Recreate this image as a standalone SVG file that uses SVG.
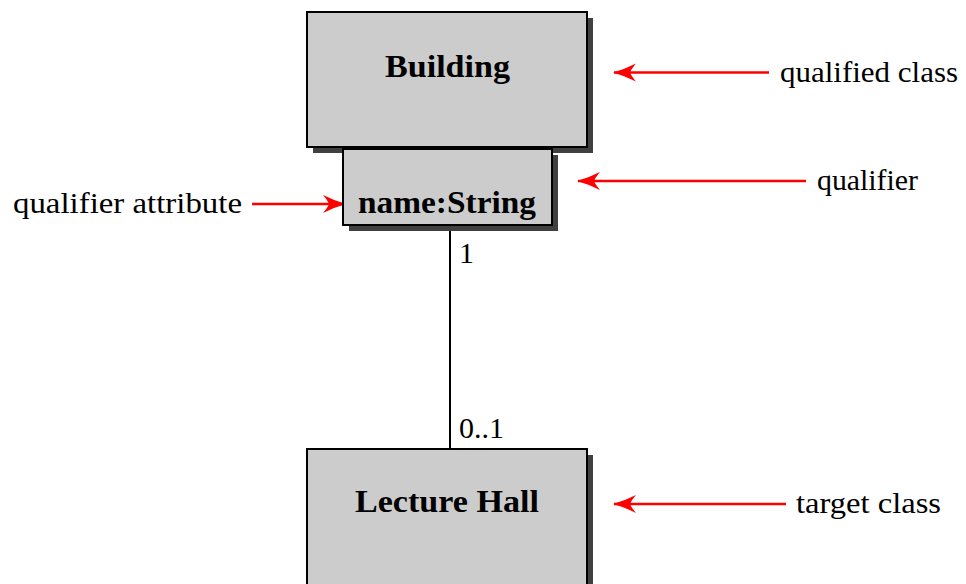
<svg xmlns="http://www.w3.org/2000/svg" width="966" height="584" viewBox="0 0 966 584">
  <style>
    .shadow { fill: #404040; }
    .box { fill: #cccccc; stroke: #000000; stroke-width: 2; }
    .title { font-family: "Liberation Serif", "DejaVu Serif", serif; font-weight: bold; font-size: 31px; fill: #000000; }
    .label { font-family: "Liberation Serif", "DejaVu Serif", serif; font-size: 30px; fill: #000000; }
    .assoc { stroke: #000000; stroke-width: 2; fill: none; }
    .pointer { stroke: #ff0000; stroke-width: 2.6; fill: none; marker-end: url(#stealth); }
  </style>
  <defs>
    <marker id="stealth" markerUnits="userSpaceOnUse" viewBox="-24 -10 26 20" refX="0" refY="0" markerWidth="26" markerHeight="20" orient="auto">
      <path d="M1,0 Q-10,-3 -22,-9 Q-17,-3 -16,0 Q-17,3 -22,9 Q-10,3 1,0 Z" fill="#ff0000"/>
    </marker>
  </defs>
  <rect width="966" height="584" fill="#ffffff"/>

  <!-- association between qualifier and target, plus the red pointers -->
  <g id="connectors">
    <line class="assoc" x1="450" y1="225" x2="450" y2="449"/>
    <text class="label" x="459" y="263">1</text>
    <text class="label" x="459" y="438" textLength="45" lengthAdjust="spacingAndGlyphs">0..1</text>
    <line class="pointer" x1="769" y1="72.5" x2="614" y2="72.5"/>
    <line class="pointer" x1="806" y1="181" x2="578" y2="181"/>
    <line class="pointer" x1="252" y1="204" x2="345" y2="204"/>
    <line class="pointer" x1="786" y1="504" x2="614" y2="504"/>
  </g>

  <g id="building">
    <rect class="shadow" x="313" y="18" width="280" height="135"/>
    <rect class="box" x="307" y="12" width="280" height="135"/>
    <text class="title" x="385" y="77" textLength="125" lengthAdjust="spacingAndGlyphs">Building</text>
  </g>

  <g id="qualifier">
    <rect class="shadow" x="349" y="155" width="209" height="76"/>
    <rect class="box" x="343" y="149" width="209" height="76"/>
    <text class="title" x="358" y="213" textLength="178" lengthAdjust="spacingAndGlyphs">name:String</text>
  </g>

  <g id="lecture-hall">
    <rect class="shadow" x="313" y="455" width="280" height="135"/>
    <rect class="box" x="307" y="449" width="280" height="136"/>
    <text class="title" x="355" y="512" textLength="184" lengthAdjust="spacingAndGlyphs">Lecture Hall</text>
  </g>

  <g id="annotations">
    <text class="label" x="780" y="82" textLength="178" lengthAdjust="spacingAndGlyphs">qualified class</text>
    <text class="label" x="817" y="190" textLength="101" lengthAdjust="spacingAndGlyphs">qualifier</text>
    <text class="label" x="13" y="213" textLength="229" lengthAdjust="spacingAndGlyphs">qualifier attribute</text>
    <text class="label" x="796" y="513" textLength="145" lengthAdjust="spacingAndGlyphs">target class</text>
  </g>
</svg>
